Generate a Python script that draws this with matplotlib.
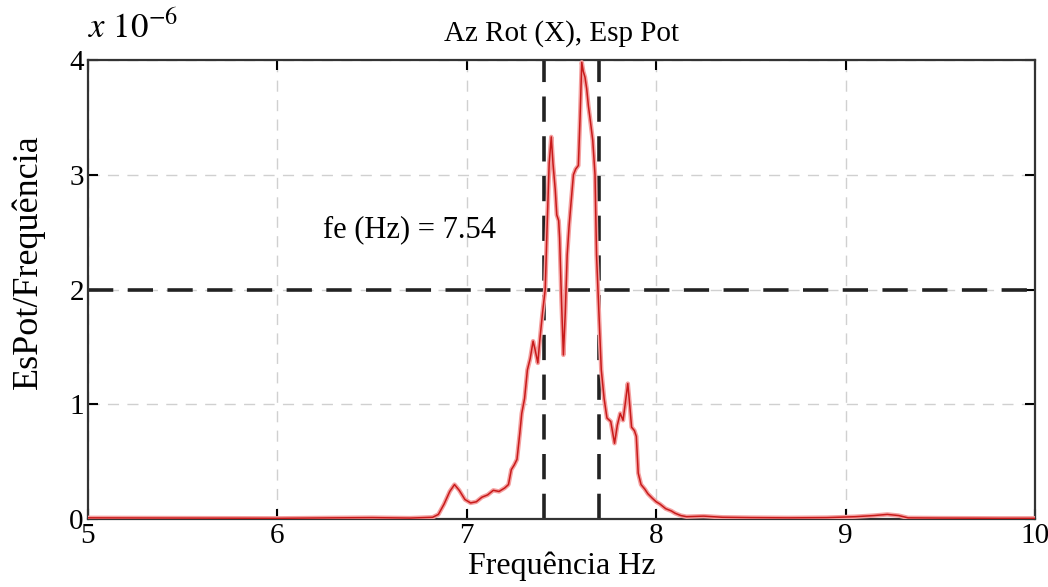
import matplotlib.pyplot as plt

plt.rcParams['font.family'] = ['Liberation Serif', 'DejaVu Serif']
plt.rcParams['mathtext.fontset'] = 'stix'

# spectrum (values in units of 1e-6)
freq = [5.0, 5.5, 6.0, 6.3, 6.5, 6.7, 6.82, 6.85, 6.88, 6.91, 6.935, 6.96, 6.99,
        7.02, 7.05, 7.08, 7.11, 7.14, 7.17, 7.20, 7.22, 7.235, 7.25, 7.265, 7.28,
        7.29, 7.305, 7.32, 7.335, 7.35, 7.36, 7.375, 7.385, 7.40, 7.414, 7.425,
        7.435, 7.446, 7.455, 7.467, 7.475, 7.485, 7.49, 7.50, 7.51, 7.52, 7.53,
        7.54, 7.55, 7.563, 7.575, 7.589, 7.598, 7.607, 7.615, 7.624, 7.633, 7.642,
        7.65, 7.665, 7.677, 7.685, 7.695, 7.71, 7.725, 7.74, 7.76, 7.78, 7.795,
        7.81, 7.825, 7.84, 7.85, 7.86, 7.87, 7.885, 7.895, 7.905, 7.92, 7.94,
        7.956, 7.98, 8.0, 8.02, 8.05, 8.08, 8.10, 8.13, 8.16, 8.25, 8.35, 8.5,
        8.7, 8.9, 9.05, 9.15, 9.22, 9.28, 9.33, 9.5, 9.8, 10.0]
psd = [0.01, 0.008, 0.006, 0.01, 0.012, 0.008, 0.015, 0.04, 0.13, 0.24, 0.30, 0.25, 0.17,
       0.14, 0.15, 0.19, 0.21, 0.25, 0.24, 0.27, 0.30, 0.43, 0.47, 0.52, 0.75,
       0.92, 1.05, 1.30, 1.40, 1.55, 1.48, 1.36, 1.55, 1.80, 2.0, 2.6,
       3.1, 3.33, 3.1, 2.87, 2.65, 2.6, 2.45, 1.9, 1.43, 1.8, 2.3,
       2.55, 2.75, 3.0, 3.05, 3.08, 3.5, 3.98, 3.9, 3.85, 3.75, 3.6,
       3.5, 3.3, 3.0, 2.3, 1.9, 1.3, 1.05, 0.88, 0.85, 0.66, 0.82,
       0.92, 0.86, 1.05, 1.18, 1.0, 0.8, 0.77, 0.72, 0.40, 0.30, 0.26,
       0.22, 0.18, 0.15, 0.13, 0.09, 0.07, 0.05, 0.03, 0.02, 0.025, 0.015, 0.012,
       0.01, 0.012, 0.02, 0.03, 0.04, 0.03, 0.01, 0.008, 0.006, 0.006]

f_low, f_high = 7.41, 7.70
half_power = 2.0
fe = 7.54

fig = plt.figure(figsize=(10.48, 5.87), dpi=100)
ax = fig.add_axes([88 / 1048, 1 - 519 / 587, 947 / 1048, 459 / 587])

ax.plot(freq, psd, color='#f4a0a0', lw=3.2, zorder=3)
ax.plot(freq, psd, color='#c81a1a', lw=1.1, zorder=4)

dash = (0, (7, 4))
ax.axvline(f_low, color='#222222', lw=2.6, ls=dash, zorder=2)
ax.axvline(f_high, color='#222222', lw=2.6, ls=dash, zorder=2)
ax.axhline(half_power, color='#222222', lw=2.6, ls=dash, zorder=2)

ax.text(6.70, 2.52, 'fe (Hz) = %.2f' % fe, fontsize=22, ha='center', va='center')

ax.set_xlim(5, 10)
ax.set_ylim(0, 4)
ax.set_xticks([5, 6, 7, 8, 9, 10])
ax.set_yticks([0, 1, 2, 3, 4])
ax.grid(True, color='#d0d0d0', ls=(0, (8, 6)), lw=1.0)
ax.tick_params(direction='in', length=7, width=1.5, labelsize=21, top=True, right=True, pad=3)
for s in ax.spines.values():
    s.set_linewidth(1.6)
    s.set_color('#333333')

ax.set_title('Az Rot (X), Esp Pot', fontsize=21, pad=14)
ax.set_xlabel('Frequência Hz', fontsize=23, labelpad=2)
ax.set_ylabel('EsPot/Frequência', fontsize=26)
ax.yaxis.set_label_coords(-0.046, 0.56)
fig.text(88 / 1048, 1 - 12 / 587, r'$x\ 10^{-6}$', fontsize=25, va='top', ha='left')

fig.savefig('out.png', dpi=100)
